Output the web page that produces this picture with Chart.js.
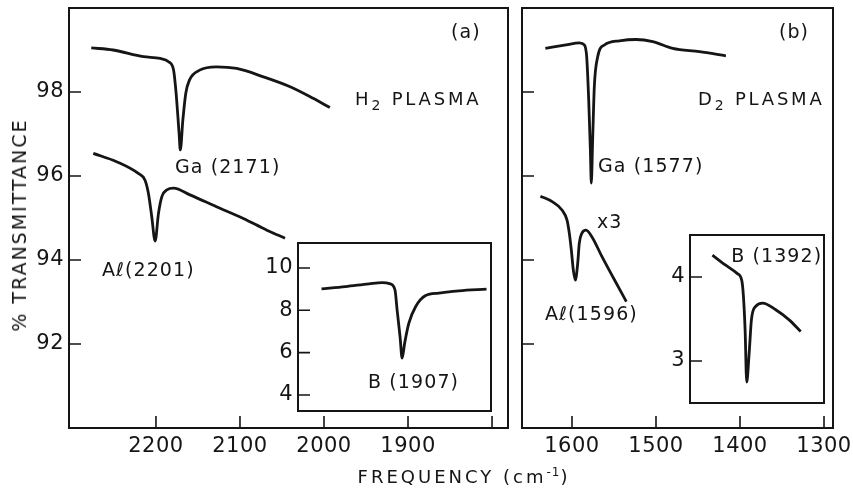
<!DOCTYPE html>
<html>
<head>
<meta charset="utf-8">
<script src="https://cdn.jsdelivr.net/npm/chart.js@4.4.1/dist/chart.umd.min.js"></script>
<style>
  html, body { margin: 0; padding: 0; background: #fff; }
  #wrap { position: relative; width: 853px; height: 489px; overflow: hidden; background: #fff; }
  #wrap canvas { position: absolute; left: 0; top: 0; }
  .title { position: absolute; font-family: 'DejaVu Sans', sans-serif; font-size: 18px; color: #151515; white-space: nowrap; }
  #ytitle { left: 18.5px; top: 225px; font-size: 19px; letter-spacing: 2px; transform: translate(-50%, -50%) rotate(-90deg); }
  #xtitle { left: 464px; top: 476px; letter-spacing: 3px; transform: translate(-50%, -50%); }
  #xtitle sup { font-size: 12px; vertical-align: 7px; line-height: 0; letter-spacing: 1px; }
</style>
</head>
<body>
<div id="wrap">
  <canvas id="panelA" width="853" height="489"></canvas>
  <canvas id="panelB" width="853" height="489"></canvas>
  <canvas id="insetA" width="853" height="489"></canvas>
  <canvas id="insetB" width="853" height="489"></canvas>
  <div class="title" id="ytitle">% TRANSMITTANCE</div>
  <div class="title" id="xtitle">FREQUENCY (cm<sup>-1</sup>)</div>
</div>
<script>
// ---- Spectra: frequency (cm^-1) and transmittance (%) ----
// (a) H2 plasma, Ga-H stretch
const gaH2Freq = [2277, 2251, 2215, 2195, 2185, 2179, 2176, 2172.5, 2171, 2168, 2164.5, 2160, 2148, 2128, 2104, 2072, 2041, 2013, 1993];
const gaH2Trans = [99.05, 99.00, 98.84, 98.80, 98.72, 98.52, 97.97, 97.02, 96.62, 97.33, 97.97, 98.29, 98.52, 98.60, 98.56, 98.36, 98.13, 97.85, 97.63];
// (a) H2 plasma, Al-H stretch
const alH2Freq = [2274.6, 2246.8, 2221, 2213, 2209, 2205, 2201, 2197, 2193, 2187, 2179, 2159.5, 2128, 2096, 2068, 2046.4];
const alH2Trans = [96.54, 96.34, 96.06, 95.90, 95.59, 95.03, 94.45, 95.11, 95.51, 95.67, 95.71, 95.55, 95.27, 94.99, 94.71, 94.52];
// (a) inset, B-H stretch
const bH2Freq = [2003, 1974.5, 1946.5, 1931, 1921, 1915.5, 1913, 1909.5, 1907, 1904, 1899, 1891, 1879, 1863.5, 1839.5, 1806.5];
const bH2Trans = [9.01, 9.12, 9.25, 9.31, 9.25, 8.96, 8.02, 6.76, 5.74, 6.45, 7.39, 8.17, 8.70, 8.81, 8.92, 9.00];
// (b) D2 plasma, Ga-D stretch
const gaD2Freq = [1631.7, 1607.1, 1591.2, 1585.3, 1582.5, 1580.1, 1578.1, 1577, 1575.4, 1573.4, 1569.4, 1561.4, 1543.6, 1523.8, 1503.8, 1480.1, 1448.3, 1416.8];
const gaD2Trans = [99.04, 99.12, 99.17, 99.12, 98.84, 97.81, 96.62, 95.83, 96.86, 98.13, 98.84, 99.12, 99.22, 99.25, 99.20, 99.04, 98.96, 98.86];
// (b) D2 plasma, Al-D stretch (x3)
const alD2Freq = [1637.6, 1623.6, 1611.9, 1605.9, 1603.2, 1600.8, 1598.4, 1596, 1593.2, 1591.3, 1588.1, 1583.3, 1576.2, 1564.3, 1550.3, 1535.3];
const alD2Trans = [95.52, 95.39, 95.19, 94.95, 94.64, 94.24, 93.76, 93.52, 93.92, 94.40, 94.64, 94.71, 94.55, 94.08, 93.56, 93.01];
// (b) inset, B-D stretch
const bD2Freq = [1432.8, 1417, 1403.1, 1397.9, 1395.9, 1393.9, 1392, 1389.1, 1386.4, 1381.3, 1373.1, 1357.5, 1341.5, 1327.7];
const bD2Trans = [4.26, 4.14, 4.04, 3.96, 3.77, 3.37, 2.75, 3.09, 3.49, 3.65, 3.69, 3.61, 3.49, 3.35];

// ---- Axis ranges and ticks ----
const freqRangeA = [1781, 2303.5];
const freqRangeB = [1289.3, 1659.5];
const transRange = [90, 100];
const insetFreqRangeA = [1801.2, 2031];
const insetTransRangeA = [3.244, 11.18];
const insetFreqRangeB = [1300, 1459.5];
const insetTransRangeB = [2.5, 4.5];

const freqTicksA = [2200, 2100, 2000, 1900, 1800];
const freqTickLabelsA = ['2200', '2100', '2000', '1900', ''];
const freqTicksB = [1600, 1500, 1400, 1300];
const freqTickLabelsB = ['1600', '1500', '1400', '1300'];
const transTicks = [92, 94, 96, 98];
const transTickLabels = ['92', '94', '96', '98'];
const insetTicksA = [4, 6, 8, 10];
const insetTicksB = [3, 4];

// ---- Text notes, anchored in data units ----
const notesA = [
  { text: '(a)', f: 1831, t: 99.40, align: 'center' },
  { pre: 'H', sub: '2', post: ' PLASMA', f: 1963, t: 97.81, wide: true },
  { text: 'Ga (2171)', f: 2177.4, t: 96.19 },
  { text: 'A\u2113(2201)', f: 2264.3, t: 93.74 }
];
const notesInsetA = [ { text: 'B (1907)', f: 1947.6, t: 4.57 } ];
const notesB = [
  { text: '(b)', f: 1335.7, t: 99.40, align: 'center' },
  { pre: 'D', sub: '2', post: ' PLASMA', f: 1450, t: 97.81, wide: true },
  { text: 'Ga (1577)', f: 1569, t: 96.21 },
  { text: 'x3', f: 1570.2, t: 94.88 },
  { text: 'A\u2113(1596)', f: 1632.1, t: 92.69 }
];
const notesInsetB = [ { text: 'B (1392)', f: 1410.5, t: 4.24 } ];

const INK = '#151515';
const FONT = "'DejaVu Sans', sans-serif";

const zip = (xs, ys) => xs.map((x, i) => ({ x: x, y: ys[i] }));

// Full box around the plot area plus inward tick marks
const framePlugin = {
  id: 'frame',
  beforeDraw(chart) {
    chart.ctx.letterSpacing = '0.5px';
  },
  beforeDatasetsDraw(chart, args, opts) {
    if (!opts.fill) return;
    const a = chart.chartArea, ctx = chart.ctx;
    ctx.save();
    ctx.fillStyle = '#fff';
    ctx.fillRect(a.left, a.top, a.right - a.left, a.bottom - a.top);
    ctx.restore();
  },
  afterDraw(chart, args, opts) {
    const a = chart.chartArea, ctx = chart.ctx;
    ctx.save();
    ctx.strokeStyle = INK;
    ctx.lineWidth = 2;
    ctx.strokeRect(a.left, a.top, a.right - a.left, a.bottom - a.top);
    const len = opts.tickLen || 12;
    ctx.lineWidth = 1.6;
    ctx.beginPath();
    (opts.yTicks || []).forEach(v => {
      const py = chart.scales.y.getPixelForValue(v);
      ctx.moveTo(a.left, py);
      ctx.lineTo(a.left + len, py);
    });
    (opts.xTicks || []).forEach(v => {
      const px = chart.scales.x.getPixelForValue(v);
      ctx.moveTo(px, a.bottom);
      ctx.lineTo(px, a.bottom - len);
    });
    ctx.stroke();
    ctx.restore();
  }
};

// Text notes with optional subscript
const notesPlugin = {
  id: 'notes',
  afterDraw(chart, args, opts) {
    const ctx = chart.ctx;
    ctx.save();
    ctx.fillStyle = INK;
    ctx.textBaseline = 'middle';
    (opts.items || []).forEach(n => {
      const x = chart.scales.x.getPixelForValue(n.f);
      const y = chart.scales.y.getPixelForValue(n.t);
      const size = n.wide ? 18 : 19;
      ctx.letterSpacing = n.wide ? '2.8px' : '1.1px';
      ctx.font = size + 'px ' + FONT;
      if (n.text !== undefined) {
        ctx.textAlign = n.align || 'left';
        ctx.fillText(n.text, x, y);
      } else {
        ctx.textAlign = 'left';
        let cx = x;
        ctx.fillText(n.pre, cx, y);
        cx += ctx.measureText(n.pre).width;
        ctx.font = '14px ' + FONT;
        ctx.fillText(n.sub, cx, y + 6);
        cx += ctx.measureText(n.sub).width;
        ctx.font = size + 'px ' + FONT;
        ctx.fillText(n.post, cx, y);
      }
    });
    ctx.restore();
  }
};

function lineSet(points) {
  return {
    data: points,
    borderColor: INK,
    borderWidth: 2.8,
    pointRadius: 0,
    fill: false,
    cubicInterpolationMode: 'monotone'
  };
}

function fixedTicks(values) {
  return scale => { scale.ticks = values.map(v => ({ value: v })); };
}

function labelFrom(values, labels) {
  return v => { const i = values.indexOf(v); return i < 0 ? '' : labels[i]; };
}

function noPad(size, prop) {
  return scale => {
    scale[prop] = size;
    scale.paddingLeft = 0; scale.paddingRight = 0;
    scale.paddingTop = 0; scale.paddingBottom = 0;
  };
}

function makeChart(id, cfg) {
  return new Chart(document.getElementById(id), {
    type: 'line',
    data: { datasets: cfg.series.map(lineSet) },
    options: {
      responsive: false,
      animation: false,
      devicePixelRatio: 1,
      layout: { padding: cfg.padding },
      plugins: {
        legend: { display: false },
        tooltip: { enabled: false },
        frame: cfg.frame,
        notes: { items: cfg.notes }
      },
      scales: {
        x: {
          type: 'linear',
          reverse: true,
          min: cfg.xRange[0], max: cfg.xRange[1],
          display: cfg.xLabels !== null,
          grid: { display: false, drawTicks: false },
          border: { display: false },
          afterBuildTicks: fixedTicks(cfg.xTicks || []),
          afterFit: noPad(cfg.xHeight || 0, 'height'),
          ticks: {
            autoSkip: false, maxRotation: 0, padding: 6,
            color: INK, font: { family: FONT, size: 21 },
            callback: cfg.xLabels ? labelFrom(cfg.xTicks, cfg.xLabels) : () => ''
          }
        },
        y: {
          type: 'linear',
          min: cfg.yRange[0], max: cfg.yRange[1],
          display: cfg.yLabels !== null,
          grid: { display: false, drawTicks: false },
          border: { display: false },
          afterBuildTicks: fixedTicks(cfg.yTicks || []),
          afterFit: noPad(cfg.yWidth || 0, 'width'),
          ticks: {
            autoSkip: false, padding: 5,
            color: INK, font: { family: FONT, size: 21 },
            callback: cfg.yLabels ? labelFrom(cfg.yTicks, cfg.yLabels) : () => ''
          }
        }
      }
    },
    plugins: [framePlugin, notesPlugin]
  });
}

// (a) H2 plasma
makeChart('panelA', {
  series: [zip(gaH2Freq, gaH2Trans), zip(alH2Freq, alH2Trans)],
  padding: { left: 0, top: 8, right: 345, bottom: 0 },
  xRange: freqRangeA, xTicks: freqTicksA, xLabels: freqTickLabelsA, xHeight: 61,
  yRange: transRange, yTicks: transTicks, yLabels: transTickLabels, yWidth: 69,
  frame: { xTicks: freqTicksA, yTicks: transTicks },
  notes: notesA
});

// (b) D2 plasma
makeChart('panelB', {
  series: [zip(gaD2Freq, gaD2Trans), zip(alD2Freq, alD2Trans)],
  padding: { left: 522, top: 8, right: 20, bottom: 0 },
  xRange: freqRangeB, xTicks: freqTicksB, xLabels: freqTickLabelsB, xHeight: 61,
  yRange: transRange, yTicks: transTicks, yLabels: null,
  frame: { xTicks: freqTicksB, yTicks: transTicks },
  notes: notesB
});

// (a) inset: B-H band
makeChart('insetA', {
  series: [zip(bH2Freq, bH2Trans)],
  padding: { left: 258, top: 243, right: 362, bottom: 78 },
  xRange: insetFreqRangeA, xTicks: [], xLabels: null,
  yRange: insetTransRangeA, yTicks: insetTicksA, yLabels: insetTicksA.map(String), yWidth: 40,
  frame: { yTicks: insetTicksA, fill: true },
  notes: notesInsetA
});

// (b) inset: B-D band
makeChart('insetB', {
  series: [zip(bD2Freq, bD2Trans)],
  padding: { left: 650, top: 235, right: 29, bottom: 86 },
  xRange: insetFreqRangeB, xTicks: [], xLabels: null,
  yRange: insetTransRangeB, yTicks: insetTicksB, yLabels: insetTicksB.map(String), yWidth: 40,
  frame: { yTicks: insetTicksB, fill: true },
  notes: notesInsetB
});
</script>
</body>
</html>
